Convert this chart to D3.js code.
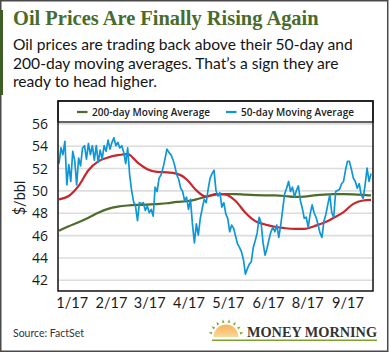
<!DOCTYPE html>
<html>
<head>
<meta charset="utf-8">
<script src="https://cdn.jsdelivr.net/npm/d3@7"></script>
<style>
  html, body { margin: 0; padding: 0; background: #fff; }
  svg { display: block; }
</style>
</head>
<body>
<div id="chart"></div>
<script>
// -- data (x = trading day index) --
var dailyPrice = [
  52.4, 53.8, 53.2, 54.4, 50.5, 52.3, 50.8, 53.5, 52.7, 50.5, 52.9, 52.2, 53.8, 54.0, 52.8, 54.2,
  53.2, 54.0, 52.7, 54.0, 52.5, 53.6, 52.8, 54.0, 53.5, 54.5, 53.7, 54.3, 54.7, 54.0, 54.3, 53.8,
  54.0, 53.4, 52.4, 53.8, 51.4, 50.0, 49.0, 48.6, 47.3, 48.9, 48.8, 48.9, 48.2, 48.6, 48.0, 48.3,
  47.7, 50.3, 49.9, 51.1, 51.4, 52.0, 52.8, 53.7, 53.4, 53.2, 52.8, 52.2, 51.4, 51.0, 50.2, 49.9, 49.1,
  49.4, 48.3, 49.2, 47.0, 45.3, 47.0, 46.0, 47.5, 48.4, 49.2, 48.9, 50.1, 51.1, 51.5, 51.8, 50.0,
  49.5, 49.8, 48.5, 48.9, 47.9, 47.5, 46.3, 46.9, 46.6, 45.9, 45.2, 44.9, 44.5, 43.8, 42.5, 43.0, 43.4,
  43.6, 44.9, 45.5, 46.2, 47.6, 47.1, 45.3, 44.2, 44.8, 45.6, 46.3, 46.7, 46.3, 46.9, 45.8, 46.9,
  48.3, 49.7, 50.2, 50.8, 49.9, 50.3, 49.4, 50.0, 50.4, 49.1, 48.4, 47.5, 47.6, 46.7, 47.9, 48.7,
  48.0, 47.6, 46.95, 46.2, 45.8, 47.25, 47.85, 48.75, 49.6, 48.0, 47.6, 49.9, 50.0, 50.1, 50.6,
  50.8, 51.8, 52.6, 52.6, 51.9, 51.1, 50.8, 50.2, 50.6, 49.6, 49.3, 50.5, 52.0, 50.8, 51.5
];

// moving averages sampled every 5 trading days (plus the last day)
var avgDays = [0, 5, 10, 15, 20, 25, 30, 35, 40, 45, 50, 55, 60, 65, 70, 75, 80, 85, 90, 95,
  100, 105, 110, 115, 120, 125, 130, 135, 140, 145, 150, 155, 159];
var redAverage = [
  49.2, 49.5, 50.4, 51.8, 52.6, 52.95, 53.15, 53.25, 52.5, 51.9, 51.65, 51.62, 51.5, 51.0, 50.0,
  49.45, 49.68, 49.62, 49.05, 48.0, 47.25, 46.95, 46.75, 46.62, 46.55, 46.55, 46.8, 47.1, 47.55,
  48.05, 48.8, 49.1, 49.15
];
var greenAverage = [
  46.4, 46.8, 47.15, 47.55, 48.0, 48.35, 48.55, 48.65, 48.7, 48.72, 48.78, 48.85, 48.97, 49.03,
  49.2, 49.45, 49.62, 49.68, 49.67, 49.62, 49.58, 49.56, 49.55, 49.5, 49.42, 49.45, 49.55, 49.63,
  49.67, 49.67, 49.65, 49.6, 49.55
];

var monthLabels = ["1/17", "2/17", "3/17", "4/17", "5/17", "6/17", "8/17", "9/17"];
var monthDays = [6.5, 26.5, 46, 66, 86, 106.5, 126.5, 147];
var yTicks = [42, 44, 46, 48, 50, 52, 54, 56];
var legendNames = ["200-day Moving Average", "50-day Moving Average"];

var colors = { price: "#0f96d7", red: "#c8262d", green: "#4d6b2a", title: "#4a6b2c" };

var width = 390, height = 353;
var box = { left: 58, right: 373, top: 101, bottom: 291, legend: 122 };

var svg = d3.select("#chart").append("svg")
  .attr("width", width)
  .attr("height", height)
  .style("font-family", "Lato, 'Open Sans', sans-serif");

// outer frame + green accent
svg.append("rect")
  .attr("x", 0.75).attr("y", 0.75)
  .attr("width", 387).attr("height", 350.5)
  .attr("fill", "#fff").attr("stroke", "#4a4a4a").attr("stroke-width", 1.5);
svg.append("rect")
  .attr("x", 0).attr("y", 10).attr("width", 3).attr("height", 85)
  .attr("fill", "#3f5e27");

// fit a text element to a target width by changing its font size
var fitWidth = function (sel, target) {
  var w = sel.node().getComputedTextLength();
  var fs = parseFloat(sel.attr("font-size"));
  sel.attr("font-size", (fs * target / w).toFixed(2));
};

// -- title & subtitle --
var title = svg.append("text")
  .attr("x", 13).attr("y", 25)
  .attr("font-family", "'Liberation Serif', 'DejaVu Serif', serif")
  .attr("font-weight", "bold")
  .attr("font-size", 20)
  .attr("fill", colors.title)
  .text("Oil Prices Are Finally Rising Again");
fitWidth(title, 306);

var subLines = [
  "Oil prices are trading back above their 50-day and",
  "200-day moving averages. That\u2019s a sign they are",
  "ready to head higher."
];
var sub = svg.append("g");
sub.selectAll("text")
  .data(subLines)
  .enter()
  .append("text")
  .attr("x", 13)
  .attr("y", function (d, i) { return 50 + i * 18.5; })
  .attr("font-size", 14.5)
  .attr("fill", "#151515")
  .text(function (d) { return d; });
var firstLine = sub.select("text");
var subSize = parseFloat(firstLine.attr("font-size")) * 340 / firstLine.node().getComputedTextLength();
sub.selectAll("text").attr("font-size", subSize.toFixed(2));

// -- scales --
var x = d3.scaleLinear().domain([0, dailyPrice.length - 1]).range([59, 371]);
var y = d3.scaleLinear().domain([41, 58]).range([box.bottom, box.top]);

// grid
var y_grid = d3.axisLeft(y).tickValues(yTicks).tickSize(-(box.right - box.left)).tickFormat("");
var grid = svg.append("g").attr("transform", "translate(" + box.left + ",0)").call(y_grid);
grid.select(".domain").remove();
grid.selectAll("line").attr("stroke", "#dcdcdc").attr("stroke-width", 1.6);

// lines
var avgLine = d3.line()
  .x(function (d) { return x(d[0]); })
  .y(function (d) { return y(d[1]); })
  .curve(d3.curveMonotoneX);

svg.append("path")
  .datum(avgDays.map(function (d, i) { return [d, greenAverage[i]]; }))
  .attr("d", avgLine)
  .attr("fill", "none").attr("stroke", colors.green).attr("stroke-width", 2.2);

svg.append("path")
  .datum(avgDays.map(function (d, i) { return [d, redAverage[i]]; }))
  .attr("d", avgLine)
  .attr("fill", "none").attr("stroke", colors.red).attr("stroke-width", 2.2);

var priceLine = d3.line()
  .x(function (d, i) { return x(i); })
  .y(function (d) { return y(d); });

svg.append("path")
  .datum(dailyPrice)
  .attr("d", priceLine)
  .attr("fill", "none").attr("stroke", colors.price)
  .attr("stroke-width", 1.7).attr("stroke-linejoin", "round");

// frame + legend row
svg.append("rect")
  .attr("x", box.left).attr("y", box.top)
  .attr("width", box.right - box.left).attr("height", box.legend - box.top)
  .attr("fill", "#fff").attr("stroke", "#111").attr("stroke-width", 1.3);
svg.append("rect")
  .attr("x", box.left).attr("y", box.top)
  .attr("width", box.right - box.left).attr("height", box.bottom - box.top)
  .attr("fill", "none").attr("stroke", "#111").attr("stroke-width", 1.5);

var legendX = [77, 226];
var legendTextW = [118, 113];
var legendColors = [colors.green, colors.price];
var legend = svg.selectAll(".legend")
  .data(legendNames)
  .enter()
  .append("g")
  .attr("class", "legend");
legend.append("line")
  .attr("x1", function (d, i) { return legendX[i]; })
  .attr("x2", function (d, i) { return legendX[i] + 10.5; })
  .attr("y1", 112).attr("y2", 112)
  .attr("stroke", function (d, i) { return legendColors[i]; })
  .attr("stroke-width", 2.2);
legend.append("text")
  .attr("x", function (d, i) { return legendX[i] + 15; })
  .attr("y", 115.5)
  .attr("font-family", "'Open Sans', Lato, sans-serif")
  .attr("font-size", 10)
  .attr("font-weight", 600)
  .attr("fill", "#222")
  .attr("textLength", function (d, i) { return legendTextW[i]; })
  .attr("lengthAdjust", "spacing")
  .text(function (d) { return d; });

// axes
var y_axis = d3.axisLeft(y).tickValues(yTicks).tickSize(0).tickPadding(0);
var ya = svg.append("g").attr("transform", "translate(48,0)").call(y_axis);
ya.select(".domain").remove();
ya.selectAll("text")
  .attr("font-family", "'Open Sans', Lato, sans-serif")
  .attr("font-size", 14).attr("fill", "#1a1a1a").attr("dy", "0.36em");

var x_axis = d3.axisBottom(x).tickValues(monthDays).tickSize(0).tickPadding(0)
  .tickFormat(function (d, i) { return monthLabels[i]; });
var xa = svg.append("g").attr("transform", "translate(0,296)").call(x_axis);
xa.select(".domain").remove();
xa.selectAll("text")
  .attr("font-family", "Lato, 'Open Sans', sans-serif")
  .attr("font-size", 14.5).attr("fill", "#1a1a1a").attr("dy", "0.8em");

svg.append("text")
  .attr("transform", "translate(25,198) rotate(-90)")
  .attr("text-anchor", "middle")
  .attr("font-size", 14.5)
  .attr("fill", "#1a1a1a")
  .text("$/bbl");

// source
svg.append("text")
  .attr("x", 13).attr("y", 337)
  .attr("font-size", 10.5)
  .attr("fill", "#333")
  .text("Source: FactSet");

// -- Money Morning logo --
var logo = svg.append("g");
var grad = svg.append("defs").append("linearGradient")
  .attr("id", "sun").attr("x1", 0).attr("y1", 0).attr("x2", 0).attr("y2", 1);
grad.append("stop").attr("offset", "0%").attr("stop-color", "#f7b25c");
grad.append("stop").attr("offset", "100%").attr("stop-color", "#f9d79a");
var sunX = 226, sunY = 337, sunR = 12.5;
logo.append("path")
  .attr("d", d3.arc()({ innerRadius: 0, outerRadius: sunR, startAngle: -Math.PI / 2, endAngle: Math.PI / 2 }))
  .attr("transform", "translate(" + sunX + "," + sunY + ")")
  .attr("fill", "url(#sun)");
var rays = d3.range(-75, 76, 21.5);
logo.selectAll(".ray")
  .data(rays)
  .enter()
  .append("path")
  .attr("class", "ray")
  .attr("d", "M-1.3,0 L1.3,0 L0,-3.5 Z")
  .attr("transform", function (a) {
    var r = (a * Math.PI) / 180;
    return "translate(" + (sunX + Math.sin(r) * (sunR + 2)) + "," + (sunY - Math.cos(r) * (sunR + 2)) + ") rotate(" + a + ")";
  })
  .attr("fill", "#7fa83a");
logo.append("line")
  .attr("x1", 212).attr("x2", 377).attr("y1", 340.3).attr("y2", 340.3)
  .attr("stroke", "#7ca12e").attr("stroke-width", 1.5);
logo.append("text")
  .attr("x", 247).attr("y", 337)
  .attr("font-family", "'Liberation Serif', 'DejaVu Serif', serif")
  .attr("font-weight", "bold")
  .attr("font-size", 14.5)
  .attr("fill", "#333")
  .attr("textLength", 130)
  .attr("lengthAdjust", "spacingAndGlyphs")
  .text("MONEY MORNING");
</script>
</body>
</html>
